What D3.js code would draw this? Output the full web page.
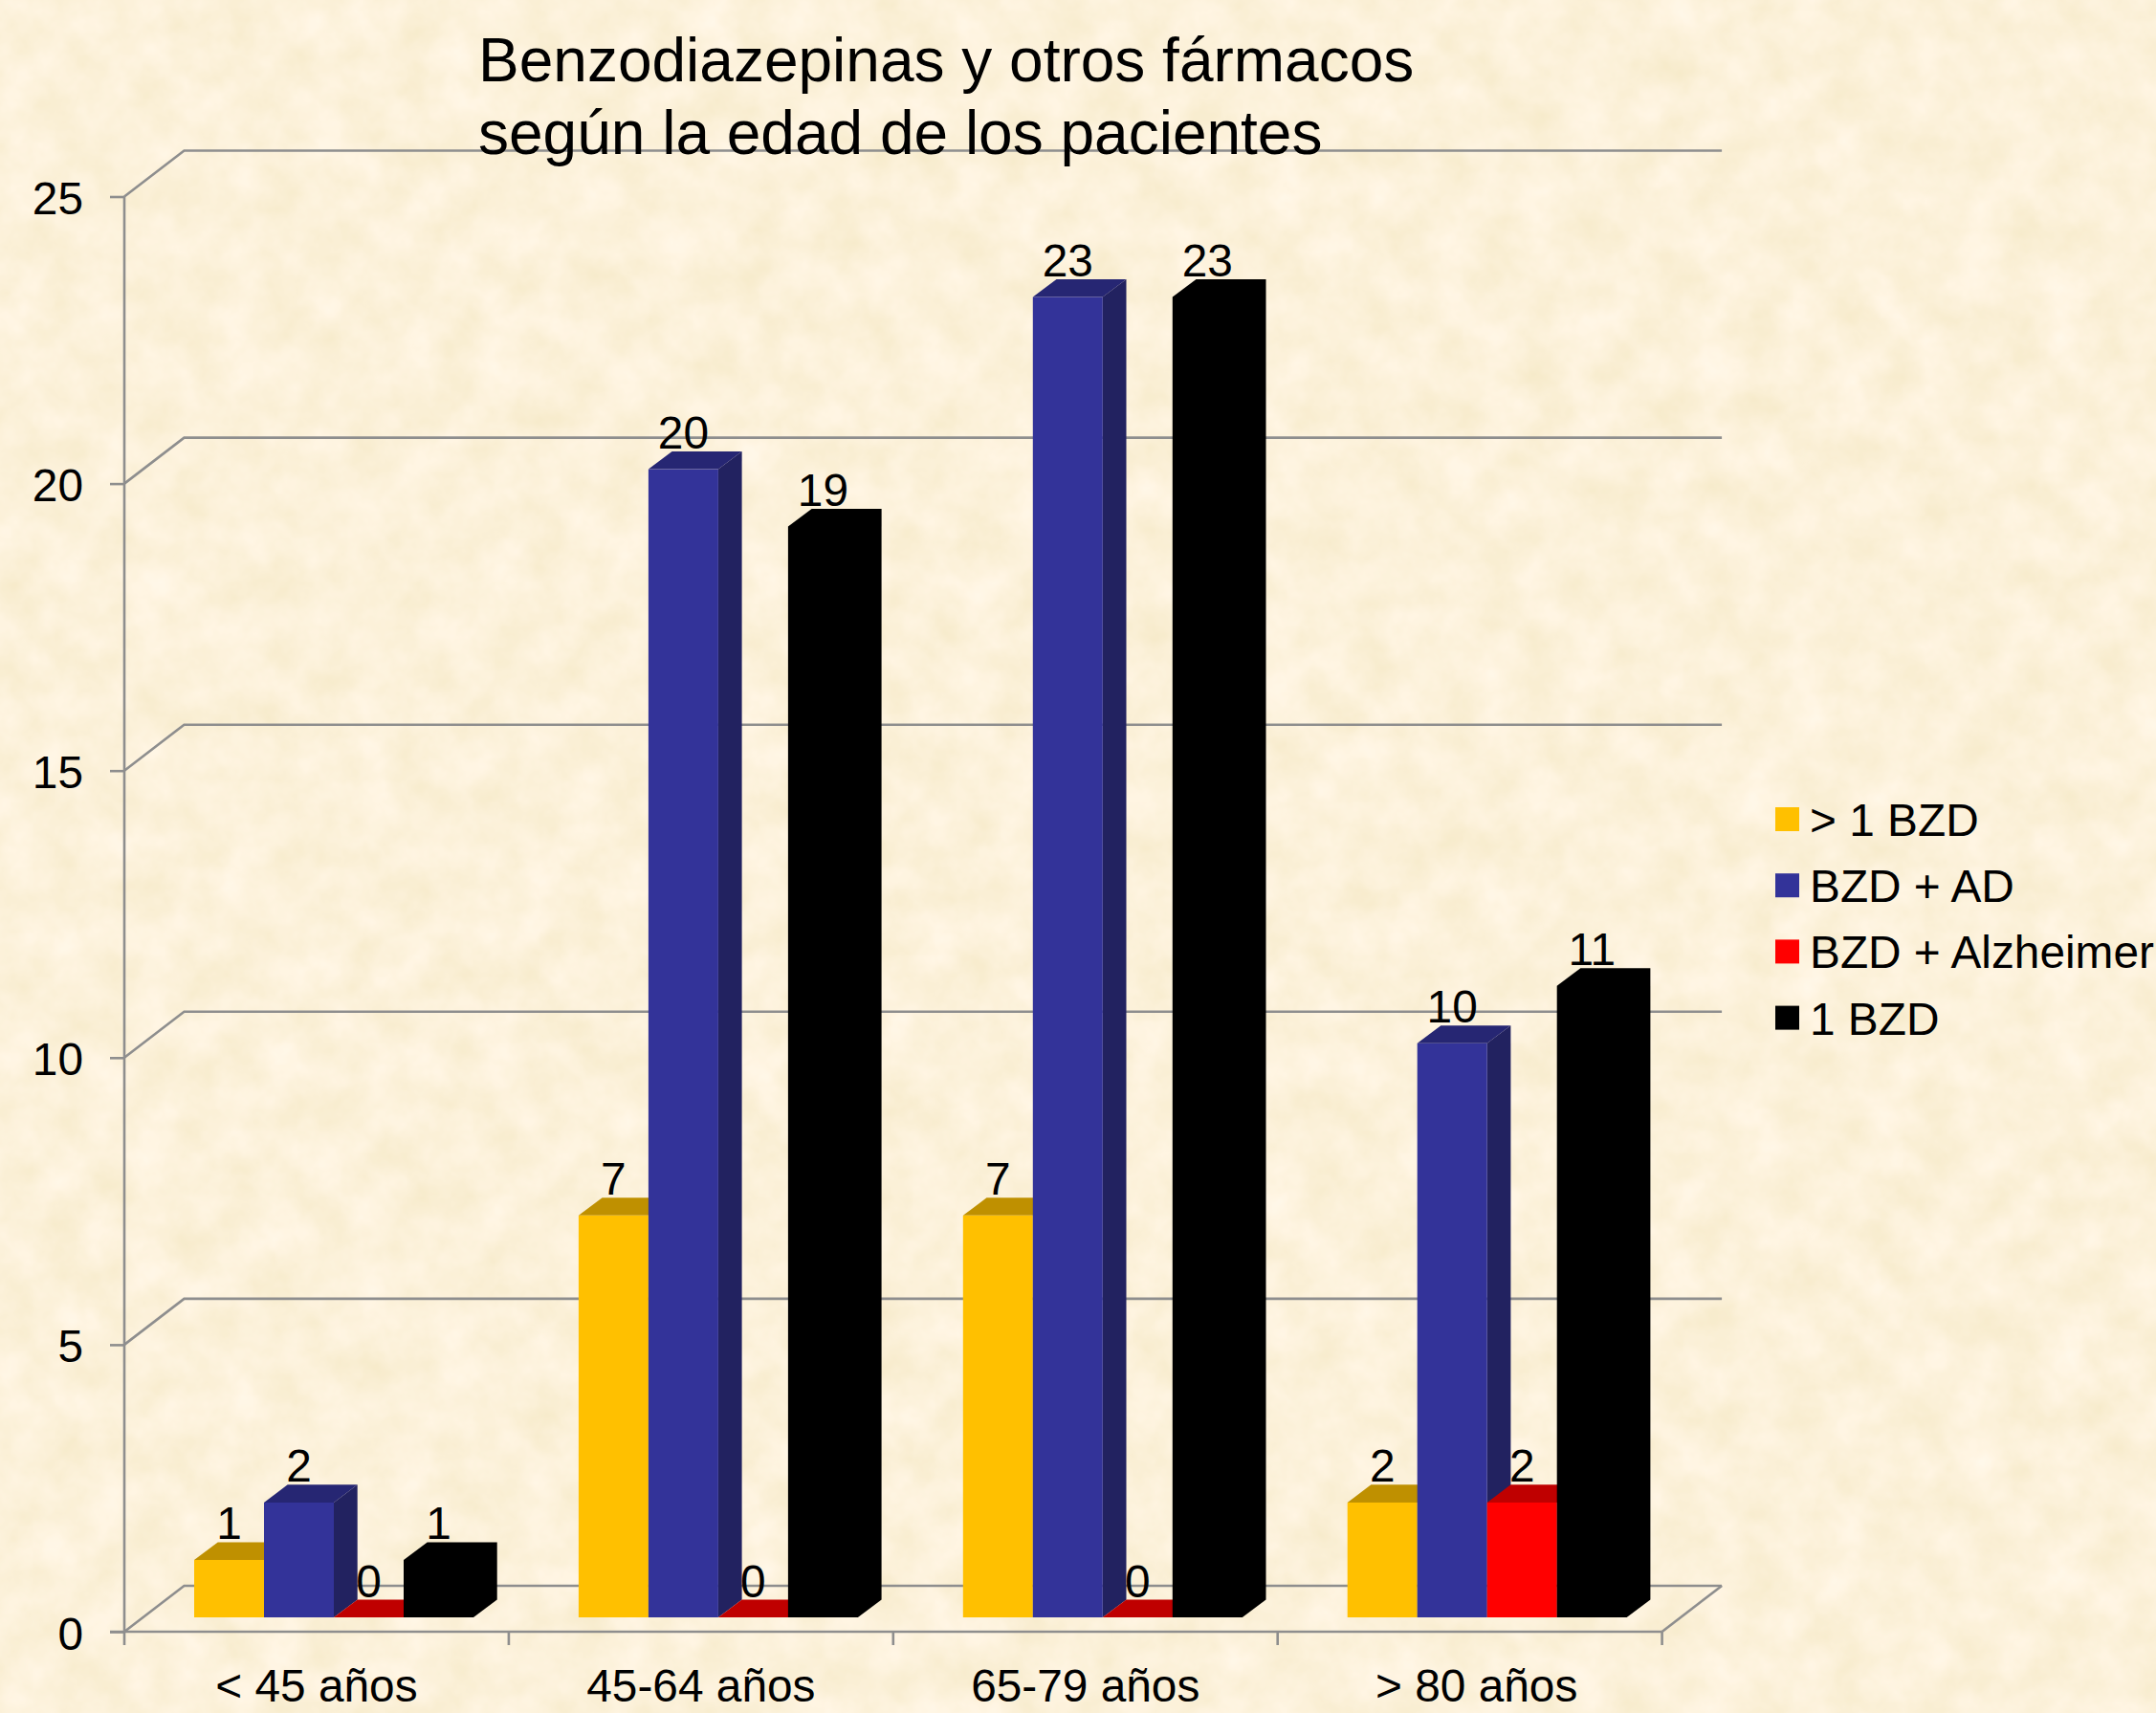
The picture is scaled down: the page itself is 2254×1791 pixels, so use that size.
<!DOCTYPE html>
<html><head><meta charset="utf-8">
<script src="https://cdn.jsdelivr.net/npm/d3@7"></script>
<style>html,body{margin:0;padding:0;background:#fcf1d9;overflow:hidden}svg{display:block}text{font-family:"Liberation Sans",Arial,sans-serif;fill:#000}</style>
</head><body><div id="chart"></div>
<script>
const categories = ["< 45 años","45-64 años","65-79 años","> 80 años"];
const seriesNames = ["> 1 BZD","BZD + AD","BZD + Alzheimer","1 BZD"];
const moreThanOneBzd = [1,7,7,2];
const bzdPlusAd = [2,20,23,10];
const bzdPlusAlzheimer = [0,0,0,2];
const oneBzd = [1,19,23,11];
const seriesValues = [moreThanOneBzd,bzdPlusAd,bzdPlusAlzheimer,oneBzd];
const frontColors = ["#FFC000","#333399","#FF0000","#000000"];
const topColors = ["#BF9000","#262673","#BF0000","#000000"];
const sideColors = ["#BF9000","#222260","#BF0000","#000000"];
const yTicks = [0,5,10,15,20,25];
const titleLines = ["Benzodiazepinas y otros fármacos","según la edad de los pacientes"];
const categoryLabelShift = [0,0,0,7];

const W=2254,H=1791,FS=47.8;
const svg=d3.select("#chart").append("svg").attr("width",W).attr("height",H);
const defs=svg.append("defs");
const f=defs.append("filter").attr("id","paper").attr("x",0).attr("y",0).attr("width","100%").attr("height","100%").attr("color-interpolation-filters","sRGB");
f.append("feTurbulence").attr("type","fractalNoise").attr("baseFrequency","0.022").attr("numOctaves",4).attr("seed",7);
f.append("feColorMatrix").attr("type","matrix").attr("values",
 "0.05 0 0 0 0.963  0.06 0 0 0 0.916  0.14 0 0 0 0.785  0 0 0 0 1");
svg.append("rect").attr("width",W).attr("height",H).attr("fill","#fcf1d9").attr("filter","url(#paper)");

const x0=130,x1=1737.6,yB=1706,yT=205.5,dxW=62.5,dyW=-48;
const x=d3.scaleBand().domain(categories).range([x0,x1]);
const y=d3.scaleLinear().domain([0,25]).range([yB,yT]);
const inner=d3.scaleBand().domain(d3.range(4)).range([73,73+73*4]);
const barBase=1691, unit=y(0)-y(1), barW=inner.bandwidth(), dxB=24.7, dyB=-18.6;
const grey="#8E8E8E", LW=2.6;
const g=svg.append("g").attr("stroke",grey).attr("stroke-width",LW).attr("fill","none");
yTicks.forEach(t=>{
  g.append("path").attr("d",`M${x0},${y(t)}L${x0+dxW},${y(t)+dyW}L${x1+dxW},${y(t)+dyW}`);
});
g.append("path").attr("d",`M${x1},${yB}L${x1+dxW},${yB+dyW}`);
const ya=svg.append("g").attr("transform",`translate(${x0},0)`)
 .call(d3.axisLeft(y).tickValues(yTicks).tickSize(15).tickPadding(15));
ya.select(".domain").attr("stroke",grey).attr("stroke-width",LW).attr("d",`M0,${yT}V${yB}`);
ya.selectAll("line").attr("stroke",grey).attr("stroke-width",LW);
ya.selectAll("text").attr("font-size",FS).attr("font-family",null).attr("dy",null).attr("y",18).attr("x",-43);
const xa=svg.append("g").attr("transform",`translate(0,${yB})`)
 .call(d3.axisBottom(x).tickSize(0).tickPadding(0));
xa.select(".domain").attr("stroke",grey).attr("stroke-width",LW).attr("d",`M${x0-15},0H${x1}`);
xa.selectAll("text").attr("font-size",FS).attr("font-family",null).attr("dy",null).attr("y",73).attr("x",(d,i)=>categoryLabelShift[i]);
xa.selectAll(".tick line").remove();
[...categories.map(c=>x(c)),x1].forEach(px=>xa.append("line").attr("x1",px).attr("x2",px).attr("y1",0).attr("y2",14).attr("stroke",grey).attr("stroke-width",LW));
categories.forEach((c,ci)=>{
  const gb=svg.append("g");
  seriesValues.forEach((vals,si)=>{
    const v=vals[ci], l=x(c)+inner(si), r=l+barW, t=barBase-v*unit;
    if(si===3){
      // solid black silhouette: no visible seams between faces
      gb.append("path").attr("fill","#000").attr("d",`M${l},${barBase}L${l},${t}L${l+dxB},${t+dyB}L${r+dxB},${t+dyB}L${r+dxB},${barBase+dyB}L${r},${barBase}Z`);
      return;
    }
    gb.append("path").attr("fill",sideColors[si]).attr("d",`M${r},${barBase}L${r+dxB},${barBase+dyB}L${r+dxB},${t+dyB}L${r},${t}Z`);
    gb.append("path").attr("fill",topColors[si]).attr("d",`M${l},${t}L${l+dxB},${t+dyB}L${r+dxB},${t+dyB}L${r},${t}Z`);
    gb.append("rect").attr("x",l).attr("y",t).attr("width",barW).attr("height",v*unit).attr("fill",frontColors[si]);
  });
  seriesValues.forEach((vals,si)=>{
    const v=vals[ci];
    svg.append("text").attr("x",x(c)+inner(si)+barW/2).attr("y",barBase-v*unit-21.5).attr("text-anchor","middle").attr("font-size",FS).text(v);
  });
});
seriesNames.forEach((n,i)=>{
  const yy=844+i*69.2;
  svg.append("rect").attr("x",1856).attr("y",yy).attr("width",25).attr("height",25).attr("fill",frontColors[i]);
  svg.append("text").attr("x",1892).attr("y",yy+30).attr("font-size",FS).text(n);
});
titleLines.forEach((t,i)=>svg.append("text").attr("x",500).attr("y",85+i*76).attr("font-size",64).text(t));
</script></body></html>
